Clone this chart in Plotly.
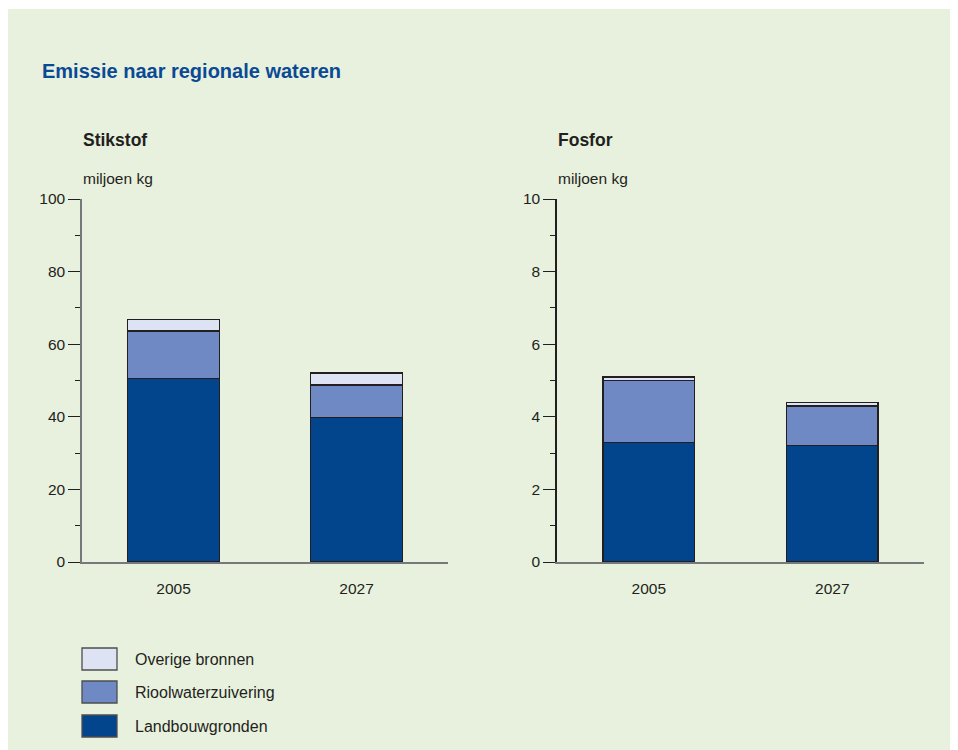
import plotly.graph_objects as go

# ── Data ──────────────────────────────────────────────────────────────────────
years = ["2005", "2027"]
series = ["Landbouwgronden", "Rioolwaterzuivering", "Overige bronnen"]
stikstof = {
    "Landbouwgronden": [50.6, 39.9],
    "Rioolwaterzuivering": [13.0, 8.9],
    "Overige bronnen": [3.3, 3.3],
}
fosfor = {
    "Landbouwgronden": [3.3, 3.2],
    "Rioolwaterzuivering": [1.7, 1.1],
    "Overige bronnen": [0.1, 0.1],
}
colors = {
    "Landbouwgronden": "#03458C",
    "Rioolwaterzuivering": "#6E89C4",
    "Overige bronnen": "#DDE3F2",
}

W, H = 958, 750
OFF = 8  # page body margin
FONT = "Liberation Sans, Arial, sans-serif"
TXT = "#231F20"


def px_x(v):
    return (v - OFF) / W


def px_y(v):
    return 1 - (v - OFF) / H


fig = go.Figure()

for data, xa, ya in [(stikstof, "x", "y"), (fosfor, "x2", "y2")]:
    for name in series:
        fig.add_trace(go.Bar(
            x=years, y=data[name], name=name, xaxis=xa, yaxis=ya,
            marker=dict(color=colors[name], line=dict(color="#231F20", width=1.3)),
            width=0.5, showlegend=False,
        ))

axis_common = dict(
    showgrid=False, zeroline=False, showline=True, linewidth=1.5,
    tickfont=dict(family=FONT, size=15.5, color=TXT),
)
y_common = dict(
    ticks="outside", ticklen=12, tickcolor="#231F20", tickwidth=1.3,
    ticklabelstandoff=0,
)

fig.update_layout(
    width=W, height=H, barmode="stack",
    margin=dict(l=0, r=0, t=0, b=0, autoexpand=False),
    paper_bgcolor="white", plot_bgcolor="white",
    font=dict(family=FONT, color=TXT),
    xaxis=dict(domain=[px_x(82), px_x(448)], anchor="y", ticks="", ticklabelstandoff=12,
               linecolor="#77787B", **axis_common),
    xaxis2=dict(domain=[px_x(557), px_x(924)], anchor="y2", ticks="", ticklabelstandoff=12,
                linecolor="#77787B", **axis_common),
    yaxis=dict(domain=[px_y(562), px_y(199)], anchor="x", range=[0, 100], dtick=20,
               minor=dict(dtick=10, ticks="outside", ticklen=5, tickcolor="#231F20"),
               linecolor="#77787B", **y_common, **axis_common),
    yaxis2=dict(domain=[px_y(562), px_y(199)], anchor="x2", range=[0, 10], dtick=2,
                minor=dict(dtick=1, ticks="outside", ticklen=5, tickcolor="#231F20"),
                linecolor="#231F20", **y_common, **axis_common),
)

# green panel background
fig.add_shape(type="rect", xref="paper", yref="paper", x0=0, x1=1, y0=0, y1=px_y(9),
              fillcolor="#E8F1DE", line=dict(width=0), layer="below")

annotations = [
    dict(text="<b>Emissie naar regionale wateren</b>", x=px_x(40), y=px_y(71),
         font=dict(size=20, color="#0A4A95")),
    dict(text="<b>Stikstof</b>", x=px_x(81), y=px_y(140), font=dict(size=17.5, color=TXT)),
    dict(text="miljoen kg", x=px_x(81), y=px_y(178), font=dict(size=15.5, color=TXT)),
    dict(text="<b>Fosfor</b>", x=px_x(556), y=px_y(140), font=dict(size=17.5, color=TXT)),
    dict(text="miljoen kg", x=px_x(556), y=px_y(178), font=dict(size=15.5, color=TXT)),
]
for a in annotations:
    fig.add_annotation(xref="paper", yref="paper", xanchor="left", yanchor="middle",
                       showarrow=False, **a)

# manual legend
legend_rows = {"Overige bronnen": 659, "Rioolwaterzuivering": 692, "Landbouwgronden": 726}
for name, yc in legend_rows.items():
    fig.add_shape(type="rect", xref="paper", yref="paper",
                  x0=px_x(82), x1=px_x(117), y0=px_y(yc + 11), y1=px_y(yc - 11),
                  fillcolor=colors[name], line=dict(color="#4D4D4F", width=1.3))
    fig.add_annotation(xref="paper", yref="paper", x=px_x(133), y=px_y(yc),
                       xanchor="left", yanchor="middle", showarrow=False,
                       text=name, font=dict(size=16, color=TXT))

fig.write_html("out.html")
